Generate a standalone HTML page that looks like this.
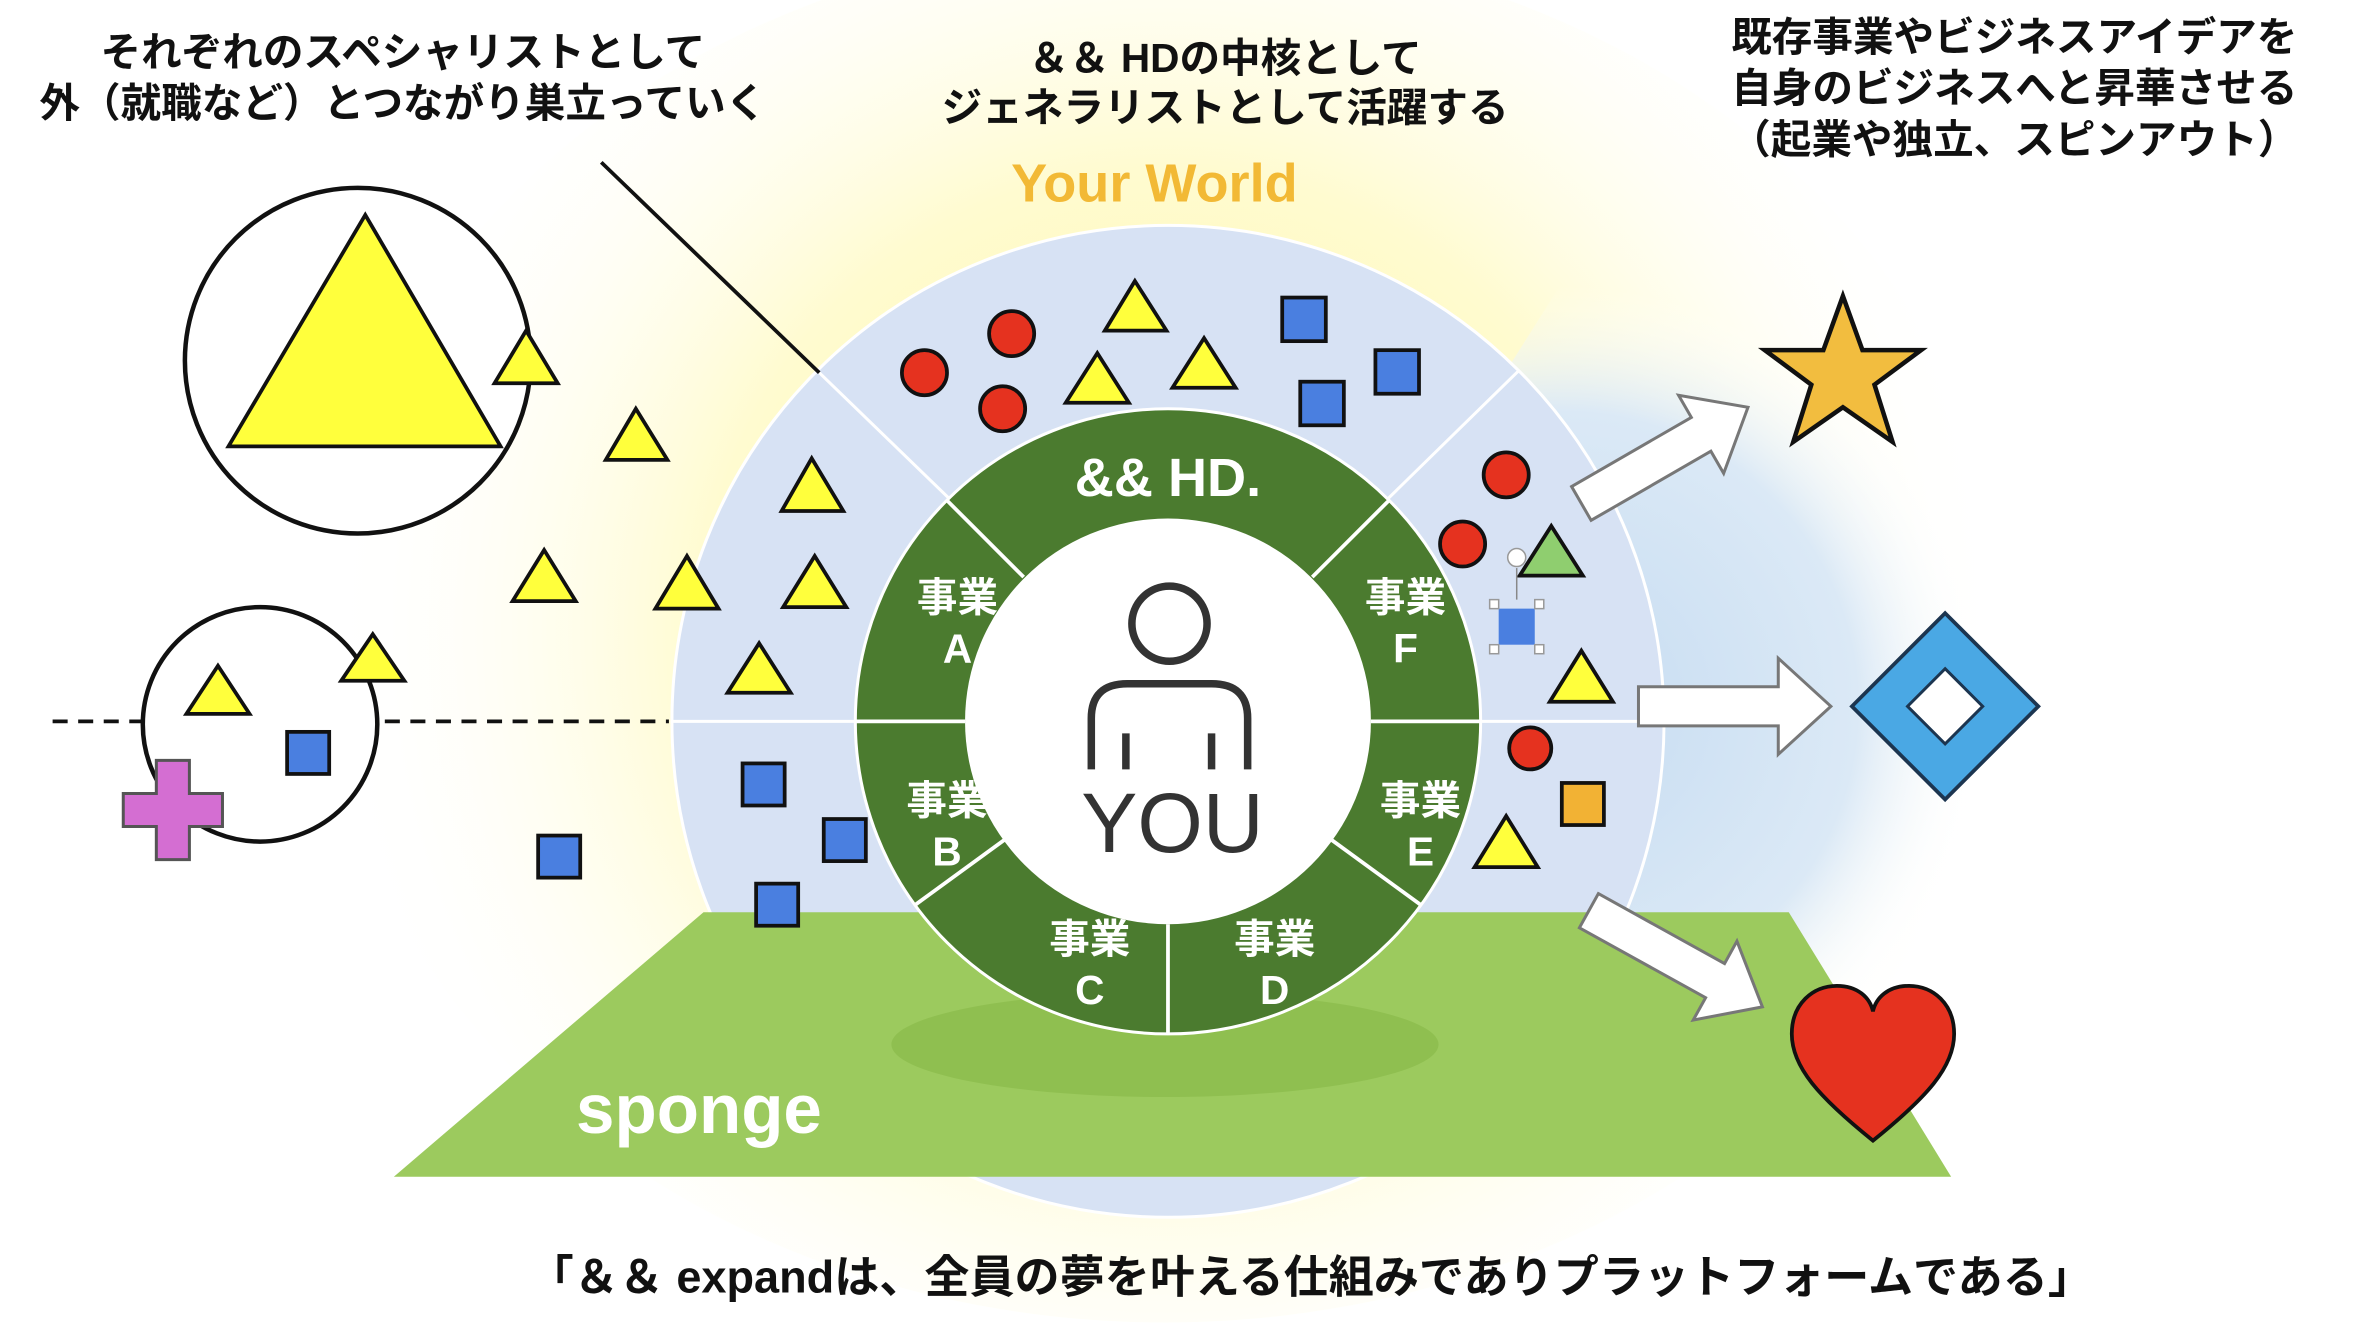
<!DOCTYPE html>
<html><head><meta charset="utf-8"><style>
html,body{margin:0;padding:0;background:#fff;}
svg{display:block;}
text{font-family:"Liberation Sans","Noto Sans CJK JP",sans-serif;}
</style></head><body>
<svg width="2360" height="1342" viewBox="0 0 1570 893" preserveAspectRatio="none" xmlns="http://www.w3.org/2000/svg">
<defs>
<radialGradient id="yg" cx="775" cy="420" r="560" gradientUnits="userSpaceOnUse">
<stop offset="0" stop-color="#fff7a0"/><stop offset="0.55" stop-color="#fffbd0"/><stop offset="1" stop-color="#ffffff" stop-opacity="0"/>
</radialGradient>
<radialGradient id="bg" cx="1040" cy="470" r="280" gradientUnits="userSpaceOnUse">
<stop offset="0" stop-color="#c6dcf1"/><stop offset="0.7" stop-color="#dbe9f6"/><stop offset="1" stop-color="#ffffff" stop-opacity="0"/>
</radialGradient>
</defs>
<rect width="1570" height="893" fill="#fff"/>
<ellipse cx="775" cy="420" rx="560" ry="460" fill="url(#yg)"/>
<polygon points="1000,250 1120,60 1330,60 1330,790 1000,790" fill="url(#bg)"/>
<circle cx="777" cy="480" r="330" fill="#d7e2f4" stroke="#fff" stroke-width="2"/>
<g stroke="#fff" stroke-width="2">
<line x1="447" y1="480" x2="575" y2="480"/>
<line x1="980" y1="480" x2="1107" y2="480"/>
<line x1="544" y1="247" x2="640" y2="340"/>
<line x1="1010" y1="247" x2="915" y2="340"/>
</g>
<polygon points="262,783 1298,783 1190,607 468,607" fill="#9cca5e"/>
<ellipse cx="775" cy="695" rx="182" ry="35" fill="#8fbf50"/>
<text x="465" y="754" font-size="46" font-weight="bold" fill="#fff" text-anchor="middle">sponge</text>
<circle cx="777" cy="480" r="208" fill="#4b7b2f" stroke="#fff" stroke-width="2"/>
<circle cx="777" cy="480" r="135" fill="#fff"/>
<g stroke="#fff" stroke-width="2.5">
<line x1="630" y1="333" x2="681" y2="384"/>
<line x1="924" y1="333" x2="873" y2="384"/>
<line x1="569" y1="480" x2="642" y2="480"/>
<line x1="985" y1="480" x2="912" y2="480"/>
<line x1="609" y1="602" x2="668" y2="559"/>
<line x1="945" y1="602" x2="886" y2="559"/>
<line x1="777" y1="615" x2="777" y2="688"/>
</g>
<g fill="#fff" font-weight="bold" font-size="27" text-anchor="middle">
<text x="777" y="330" font-size="36">&amp;&amp; HD.</text>
<text x="637" y="407">事業</text><text x="637" y="441">A</text>
<text x="630" y="542">事業</text><text x="630" y="576">B</text>
<text x="725" y="634">事業</text><text x="725" y="668">C</text>
<text x="848" y="634">事業</text><text x="848" y="668">D</text>
<text x="945" y="542">事業</text><text x="945" y="576">E</text>
<text x="935" y="407">事業</text><text x="935" y="441">F</text>
</g>
<g stroke="#333" stroke-width="5" fill="none">
<circle cx="778" cy="415" r="25"/>
<path d="M726 512 L726 478 Q726 455 750 455 L806 455 Q830 455 830 478 L830 512"/>
<line x1="749" y1="488" x2="749" y2="512"/><line x1="806" y1="488" x2="806" y2="512"/>
</g>
<text x="780" y="567" font-size="56" fill="#333" text-anchor="middle">YOU</text>
<text x="768" y="134" font-size="36" font-weight="bold" fill="#f2b935" text-anchor="middle">Your World</text>
<g font-size="27" fill="#111" text-anchor="middle" font-weight="bold">
<text x="815" y="48">＆＆ HDの中核として</text>
<text x="815" y="81">ジェネラリストとして活躍する</text>
<text x="268" y="44">それぞれのスペシャリストとして</text>
<text x="268" y="78">外（就職など）とつながり巣立っていく</text>
<text x="1340" y="34">既存事業やビジネスアイデアを</text>
<text x="1340" y="68">自身のビジネスへと昇華させる</text>
<text x="1340" y="102">（起業や独立、スピンアウト）</text>
<text x="872" y="860" font-size="30">「＆＆ expandは、全員の夢を叶える仕組みでありプラットフォームである」</text>
</g>
<line x1="400" y1="108" x2="545" y2="248" stroke="#111" stroke-width="2.5"/>
<line x1="35" y1="480" x2="445" y2="480" stroke="#111" stroke-width="2.5" stroke-dasharray="10,7"/>
<circle cx="238" cy="240" r="115" fill="#fff" stroke="#111" stroke-width="3"/>
<polygon points="243,143 152,297 333,297" fill="#ffff3c" stroke="#111" stroke-width="2.5"/>
<circle cx="173" cy="482" r="78" fill="#fff" stroke="#111" stroke-width="3"/>
<path d="M104 506 h22 v22 h22 v22 h-22 v22 h-22 v-22 h-22 v-22 h22 z" fill="#d46ed2" stroke="#555" stroke-width="2"/>
<g fill="#ffff3c" stroke="#111" stroke-width="2.5">
<polygon points="350,220 329,255 371,255"/>
<polygon points="423,272 403,306 444,306"/>
<polygon points="540,305 520,340 561,340"/>
<polygon points="362,366 341,400 383,400"/>
<polygon points="457,370 436,405 478,405"/>
<polygon points="542,370 521,404 563,404"/>
<polygon points="505,428 484,461 526,461"/>
<polygon points="755,187 735,220 776,220"/>
<polygon points="730,235 709,268 751,268"/>
<polygon points="801,225 780,258 822,258"/>
<polygon points="1052,433 1031,467 1073,467"/>
<polygon points="1002,543 981,577 1023,577"/>
<polygon points="145,443 124,475 166,475"/>
<polygon points="248,422 227,453 269,453"/>
</g>
<polygon points="1032,350 1011,383 1053,383" fill="#8fce6f" stroke="#111" stroke-width="2.5"/>
<g fill="#4a7fe0" stroke="#111" stroke-width="2.5">
<rect x="191" y="487" width="28" height="28"/>
<rect x="358" y="556" width="28" height="28"/>
<rect x="494" y="508" width="28" height="28"/>
<rect x="548" y="545" width="28" height="28"/>
<rect x="503" y="588" width="28" height="28"/>
<rect x="853" y="198" width="29" height="29"/>
<rect x="865" y="254" width="29" height="29"/>
<rect x="915" y="233" width="29" height="29"/>
</g>
<rect x="997" y="405" width="24" height="24" fill="#4a7fe0"/>
<g fill="#fff" stroke="#999" stroke-width="1"><rect x="991" y="399" width="6" height="6"/><rect x="1021" y="399" width="6" height="6"/><rect x="991" y="429" width="6" height="6"/><rect x="1021" y="429" width="6" height="6"/></g>
<line x1="1009" y1="378" x2="1009" y2="399" stroke="#888"/>
<circle cx="1009" cy="371" r="6" fill="#fff" stroke="#999"/>
<rect x="1039" y="521" width="28" height="28" fill="#f2b234" stroke="#111" stroke-width="2.5"/>
<g fill="#e5321f" stroke="#111" stroke-width="2.5">
<circle cx="615" cy="248" r="15"/><circle cx="673" cy="222" r="15"/><circle cx="667" cy="272" r="15"/>
<circle cx="1002" cy="316" r="15"/><circle cx="973" cy="362" r="15"/><circle cx="1018" cy="498" r="14"/>
</g>
<g fill="#fff" stroke="#777" stroke-width="2">
<polygon transform="translate(1052,335) rotate(-30)" points="0,-13 92,-13 92,-30 128,0 92,30 92,13 0,13"/>
<polygon transform="translate(1090,470)" points="0,-13 93,-13 93,-32 128,0 93,32 93,13 0,13"/>
<polygon transform="translate(1057,606) rotate(29)" points="0,-13 96,-13 96,-30 132,0 96,30 96,13 0,13"/>
</g>
<polygon points="1226,197 1239,233 1278,233 1247,256 1259,294 1226,271 1193,294 1205,256 1174,233 1213,233" fill="#f2bd3f" stroke="#111" stroke-width="3"/>
<polygon points="1294,408 1356,470 1294,532 1232,470" fill="#4aa8e4" stroke="#1c3550" stroke-width="2.5"/>
<polygon points="1294,445 1319,470 1294,495 1269,470" fill="#fff" stroke="#1c3550" stroke-width="2"/>
<path d="M1246 759 C1210 730 1192 710 1192 688 C1192 668 1206 656 1222 656 C1236 656 1244 664 1246 673 C1248 664 1256 656 1270 656 C1286 656 1300 668 1300 688 C1300 710 1282 730 1246 759 Z" fill="#e5321f" stroke="#111" stroke-width="2.5"/>
</svg>
</body></html>
